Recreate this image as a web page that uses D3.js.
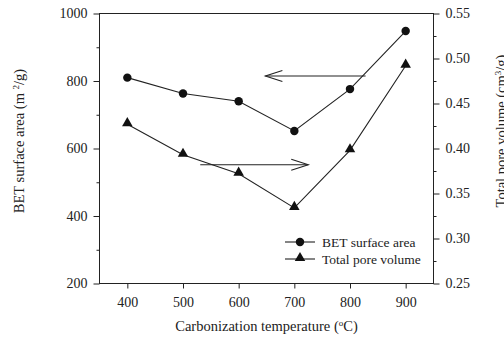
<!DOCTYPE html>
<html>
<head>
<meta charset="utf-8">
<script src="https://cdn.jsdelivr.net/npm/d3@7"></script>
<style>
body { margin: 0; background: #fff; }
text { font-family: "Liberation Serif", "Times New Roman", serif; fill: #222; }
</style>
</head>
<body>
<div id="chart"></div>
<script>
// data
var temps = [400, 500, 600, 700, 800, 900];
var betArea = [810, 763, 740, 652, 776, 948];
var poreVolume = [0.427, 0.393, 0.372, 0.334, 0.398, 0.492];
var xTicks = [400, 500, 600, 700, 800, 900];
var leftTicks = [200, 400, 600, 800, 1000];
var rightTicks = [0.25, 0.30, 0.35, 0.40, 0.45, 0.50, 0.55];
var legendNames = ["BET surface area", "Total pore volume"];

var W = 504, H = 349;
var m = { l: 99.5, r: 433.5, t: 13.5, b: 283.5 };
var ink = "#222";

var svg = d3.select("#chart").append("svg").attr("width", W).attr("height", H);

var x = d3.scaleLinear().domain([350, 950]).range([m.l, m.r]);
var yL = d3.scaleLinear().domain([200, 1000]).range([m.b, m.t]);
var yR = d3.scaleLinear().domain([0.25, 0.55]).range([m.b, m.t]);

// frame
svg.append("rect").attr("x", m.l).attr("y", m.t).attr("width", m.r - m.l)
		.attr("height", m.b - m.t).style("fill", "none").style("stroke", ink)
		.style("stroke-width", 1);

function styleAxis(g) {
	g.select(".domain").remove();
	g.selectAll("line").style("stroke", ink);
	g.selectAll("text").style("font-size", "14px")
			.style("font-family", "'Liberation Serif', serif").style("fill", ink);
}

// minor ticks
svg.append("g").attr("transform", "translate(" + m.l + ",0)")
		.call(d3.axisLeft(yL).tickValues([300, 500, 700, 900]).tickSize(3).tickFormat(""))
		.call(styleAxis);
svg.append("g").attr("transform", "translate(" + m.r + ",0)")
		.call(d3.axisRight(yR).tickValues([0.275, 0.325, 0.375, 0.425, 0.475, 0.525]).tickSize(3).tickFormat(""))
		.call(styleAxis);

// major ticks
svg.append("g").attr("transform", "translate(" + m.l + ",0)")
		.call(d3.axisLeft(yL).tickValues(leftTicks).tickSize(6).tickPadding(6).tickFormat(d3.format("d")))
		.call(styleAxis);
svg.append("g").attr("transform", "translate(" + m.r + ",0)")
		.call(d3.axisRight(yR).tickValues(rightTicks).tickSize(6).tickPadding(6).tickFormat(d3.format(".2f")))
		.call(styleAxis);
svg.append("g").attr("transform", "translate(0," + m.b + ")")
		.call(d3.axisBottom(x).tickValues(xTicks).tickSize(5).tickPadding(9).tickFormat(d3.format("d")))
		.call(styleAxis);

// axis titles
var xt = svg.append("text").attr("x", (m.l + m.r) / 2).attr("y", 331)
		.attr("text-anchor", "middle").style("font-size", "14.5px");
xt.append("tspan").text("Carbonization temperature (");
xt.append("tspan").attr("baseline-shift", "super").style("font-size", "9px").text("o");
xt.append("tspan").text("C)");

var lt = svg.append("text").attr("transform", "translate(24,141) rotate(-90)")
		.attr("text-anchor", "middle").style("font-size", "14.5px");
lt.append("tspan").text("BET surface area (m ");
lt.append("tspan").attr("baseline-shift", "super").style("font-size", "9px").text("2");
lt.append("tspan").text("/g)");

var rt = svg.append("text").attr("transform", "translate(506,131) rotate(-90)")
		.attr("text-anchor", "middle").style("font-size", "14.5px");
rt.append("tspan").text("Total pore volume (cm");
rt.append("tspan").attr("baseline-shift", "super").style("font-size", "9px").text("3");
rt.append("tspan").text("/g)");

// series lines
var lineL = d3.line().x(function(d, i) { return x(temps[i]); }).y(function(d) { return yL(d); });
var lineR = d3.line().x(function(d, i) { return x(temps[i]); }).y(function(d) { return yR(d); });

svg.append("path").attr("d", lineL(betArea)).style("fill", "none")
		.style("stroke", ink).style("stroke-width", 1.1);
svg.append("path").attr("d", lineR(poreVolume)).style("fill", "none")
		.style("stroke", ink).style("stroke-width", 1.1);

var circleSym = d3.symbol().type(d3.symbolCircle).size(56);
var triSym = d3.symbol().type(d3.symbolTriangle).size(48);

svg.selectAll("path.bet").data(betArea).enter().append("path").attr("class", "bet")
		.attr("d", circleSym)
		.attr("transform", function(d, i) { return "translate(" + x(temps[i]) + "," + yL(d) + ")"; })
		.style("fill", "#111");
svg.selectAll("path.pv").data(poreVolume).enter().append("path").attr("class", "pv")
		.attr("d", triSym)
		.attr("transform", function(d, i) { return "translate(" + x(temps[i]) + "," + (yR(d) - 1) + ")"; })
		.style("fill", "#111");

// arrows pointing to the matching axis
function arrow(x1, x2, py) {
	var dir = x2 < x1 ? 1 : -1;
	var g = svg.append("g").style("stroke", ink).style("stroke-width", 1.1).style("fill", "none");
	g.append("line").attr("x1", x1).attr("y1", py).attr("x2", x2).attr("y2", py);
	g.append("path").attr("d", "M" + (x2 + dir * 17) + "," + (py - 5.5) + "L" + x2 + "," + py
			+ "L" + (x2 + dir * 17) + "," + (py + 5.5));
}
arrow(x(828), x(648), yL(815));
arrow(x(531), x(725), yR(0.382));

// legend
var legend = svg.append("g").attr("transform", "translate(285,242)");
legendNames.forEach(function(name, i) {
	var row = legend.append("g").attr("transform", "translate(0," + (i * 17) + ")");
	row.append("line").attr("x1", 0).attr("x2", 30).attr("y1", 0).attr("y2", 0)
			.style("stroke", ink).style("stroke-width", 1.1);
	row.append("path").attr("d", i == 0 ? circleSym : triSym)
			.attr("transform", "translate(15," + (i == 0 ? 0 : -1) + ")").style("fill", "#111");
	row.append("text").attr("x", 37).attr("y", 4.5).style("font-size", "13.5px").text(name);
});
</script>
</body>
</html>
